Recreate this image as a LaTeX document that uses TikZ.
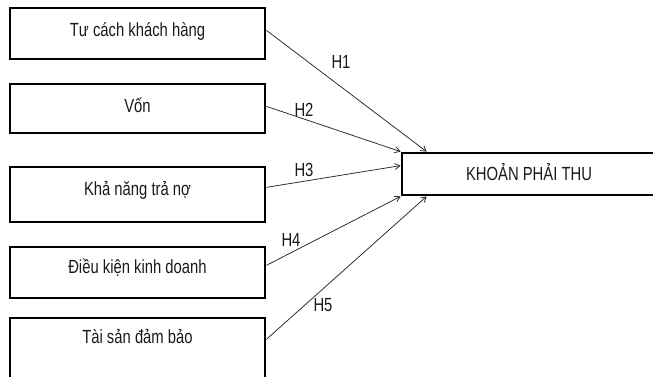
\documentclass[tikz,border=0pt]{standalone}
\usepackage{fontspec}
\setmainfont{Liberation Sans}[FakeStretch=0.78]
\usetikzlibrary{arrows.meta}
\begin{document}
\begin{tikzpicture}[x=1pt,y=-1pt,
  box/.style={draw=black, line width=2.8pt, inner xsep=0pt, inner ysep=0pt,
    minimum width=255pt, anchor=base, text=black!90,
    font=\fontsize{19}{22}\selectfont},
  link/.style={draw=black!85, line width=0.75pt,
    -{Straight Barb[length=5pt,width=6pt]}},
  hlab/.style={inner sep=0pt, text=black!90, font=\fontsize{19}{22}\selectfont}]
\clip (0,0) rectangle (653,376);

% factor boxes (anchored at the text baseline)
\node[box, text height=28.5pt, text depth=22.5pt] (b1) at (137.5,36.5) {Tư cách khách hàng};
\node[box, text height=28pt, text depth=21pt] (b2) at (137.5,112) {Vốn};
\node[box, text height=28pt, text depth=27pt] (b3) at (137.5,195) {Khả năng trả nợ};
\node[box, text height=26pt, text depth=25pt] (b4) at (137.5,273) {Điều kiện kinh doanh};
\node[box, text height=25pt, text depth=52pt] (b5) at (137.5,343) {Tài sản đảm bảo};

% outcome box
\node[box, minimum width=254pt, text height=27pt, text depth=15pt] (t) at (529,180) {KHOẢN PHẢI THU};

% hypotheses
\draw[link] ([yshift=3.5pt]b1.mid east) -- ([xshift=26pt]t.north west);
\draw[link] ([yshift=3pt]b2.mid east) -- (t.north west);
\draw[link] ([yshift=5pt]b3.mid east) -- ([yshift=-14pt]t.north west);
\draw[link] ([yshift=5pt]b4.mid east) -- (t.south west);
\draw[link] ([yshift=1pt]b5.mid east) -- ([xshift=26pt]t.south west);

\node[hlab] (h1) at (341,62) {H1};
\node[hlab] (h2) at (304,110) {H2};
\node[hlab] (h3) at (304,170) {H3};
\node[hlab] (h4) at (291,240) {H4};
\node[hlab] (h5) at (323,305) {H5};
\end{tikzpicture}
\end{document}
